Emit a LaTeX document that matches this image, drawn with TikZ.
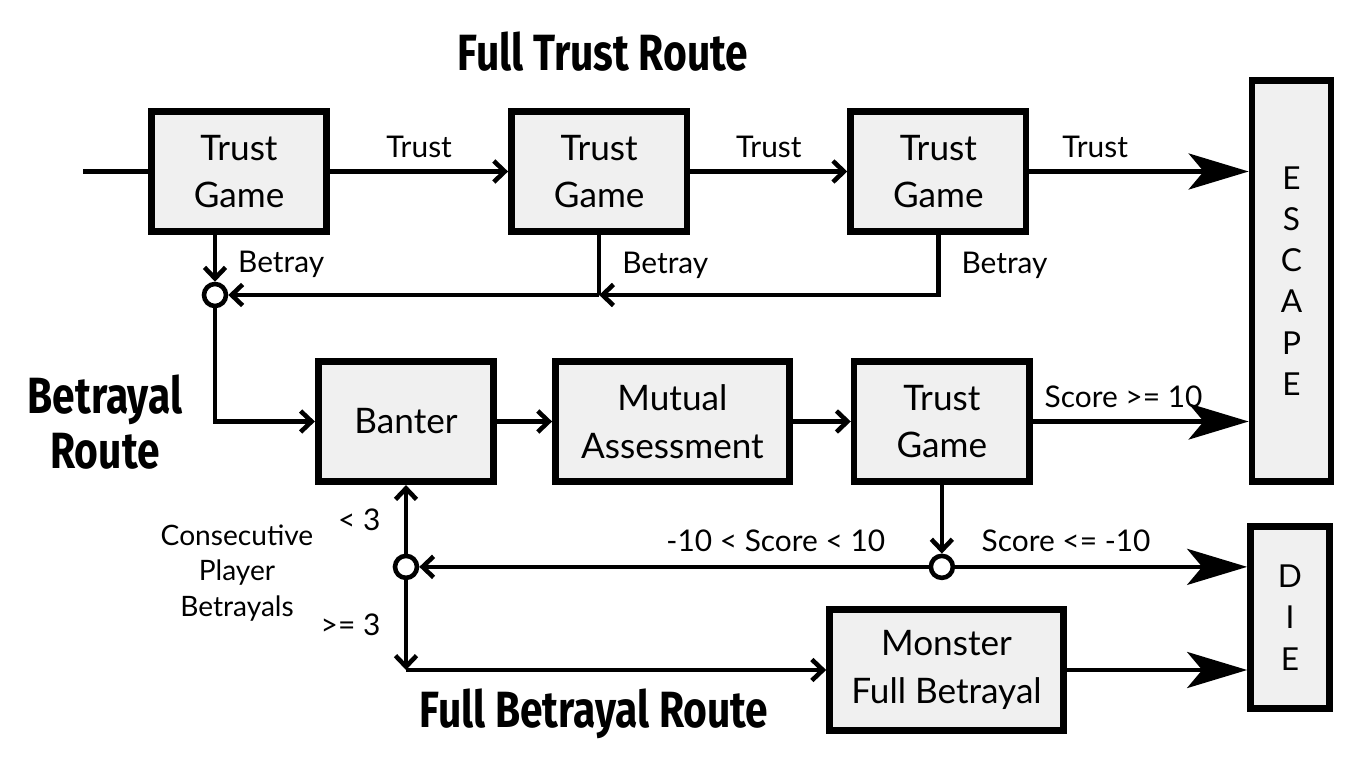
\documentclass[tikz,border=0pt]{standalone}
\usepackage{fontspec}
\setmainfont{Lato}
\newfontfamily\titlefont[FakeStretch=0.8]{Fira Sans}
\usepackage{tikz}
\usepackage{xcolor}
\usetikzlibrary{positioning,arrows.meta}
\definecolor{box-fill}{HTML}{F0F0F0}

\begin{document}
\begin{tikzpicture}
[
box-a/.style={rectangle, draw, line width=3.8pt, fill=box-fill, align=center, minimum width=3.51cm, minimum height=2.41cm, font=\fontsize{20}{27}\selectfont},
box-b/.style={box-a, minimum width=4.68cm},
box-c/.style={box-a, minimum width=1.58cm, font=\fontsize{18}{23.5}\selectfont},
junc-a/.style={circle, draw, line width=2.6pt, fill=white, inner sep=0pt, minimum size=0.44cm},
text-a/.style={font=\fontsize{17}{20}\selectfont},
text-b/.style={font=\titlefont\bfseries\fontsize{29}{31}\selectfont, align=center},
line-a/.style={line width=2.6pt, -{Straight Barb[length=0.22cm, width=0.42cm]}},
line-b/.style={line width=2.6pt, -{Stealth[length=1.2cm, width=0.72cm, inset=0.3cm]}},
line-c/.style={line width=2.6pt}
]
\useasboundingbox (0,0) rectangle (27.32,-15.36);

\node (tg-1)    [box-a] at (4.78,-3.43)                    {Trust\\Game};
\node (tg-2)    [box-a, right = 3.56cm of tg-1]            {Trust\\Game};
\node (tg-3)    [box-a, right = 3.14cm of tg-2]            {Trust\\Game};
\node (escape)  [box-c, minimum height = 8.02cm] at (25.83,-5.62) {E\\S\\C\\A\\P\\E};
\node (ban)     [box-a] at (8.12,-8.43)                    {Banter};
\node (mut)     [box-b, right = 1.1cm of ban]              {Mutual\\Assessment};
\node (tg-4)    [box-a, right = 1.16cm of mut]             {Trust\\Game};
\node (die)     [box-c, minimum height = 3.64cm] at (25.8,-12.35) {D\\I\\E};
\node (mon)     [box-b] at (18.93,-13.4)                   {Monster\\Full Betrayal};
\node (j-1)     [junc-a] at (4.3,-5.9)                     {};
\node (j-2)     [junc-a, below = 1.37cm of ban]            {};
\node (j-3)     [junc-a, below = 1.37cm of tg-4]           {};
\node (title-1) [text-b] at (12.06,-1.04)                  {Full Trust Route};
\node (title-2) [text-b] at (2.1,-8.44)                    {Betrayal\\Route};
\node (title-3) [text-b] at (11.88,-14.28)                 {Full Betrayal Route};
\node (cons)    [text-a, align=center, font=\fontsize{16}{20}\selectfont] at (4.74,-11.46) {Consecutive\\Player\\Betrayals};
\coordinate (start)  at (1.66,-3.43);
\coordinate (b-2)    at (tg-2 |- j-1);
\coordinate (b-3)    at (tg-3 |- j-1);
\coordinate (corner) at (j-2 |- mon);

\draw [line-c] (start) -- (tg-1);
\draw [line-a] (tg-1) -- (tg-2) node [text-a, midway, above = 3pt] {Trust};
\draw [line-a] (tg-2) -- (tg-3) node [text-a, midway, above = 3pt] {Trust};
\draw [line-b] (tg-3) -- (tg-3 -| escape.west) node [text-a, pos = 0.3, above = 3pt] {Trust};
\draw [line-a] (tg-1.south -| j-1) -- (j-1) node [text-a, pos = 0.62, right = 0.3cm] {Betray};
\draw [line-c] (tg-2) -- (b-2) node [text-a, midway, right = 0.3cm] {Betray};
\draw [line-a] (tg-3) -- (b-3) node [text-a, midway, right = 0.3cm] {Betray} -- (b-2);
\draw [line-a] (b-2) -- (j-1);
\draw [line-a] (j-1) |- (ban);
\draw [line-a] (ban) -- (mut);
\draw [line-a] (mut) -- (tg-4);
\draw [line-b] (tg-4) -- (tg-4 -| escape.west) node [text-a, pos = 0.42, above = 3pt] {Score >= 10};
\draw [line-a] (tg-4) -- (j-3);
\draw [line-a] (j-3) -- (j-2) node [text-a, pos = 0.3, above = 4pt] {-10 < Score < 10};
\draw [line-b] (j-3) -- (j-3 -| die.west) node [text-a, pos = 0.38, above = 4pt] {Score <= -10};
\draw [line-a] (j-2) -- (ban) node [text-a, midway, left = 0.35cm] {< 3};
\draw [line-a] (j-2) -- (corner) node [text-a, midway, left = 0.35cm] {>= 3};
\draw [line-a] (corner) -- (mon);
\draw [line-b] (mon) -- (mon -| die.west);

\end{tikzpicture}
\end{document}
